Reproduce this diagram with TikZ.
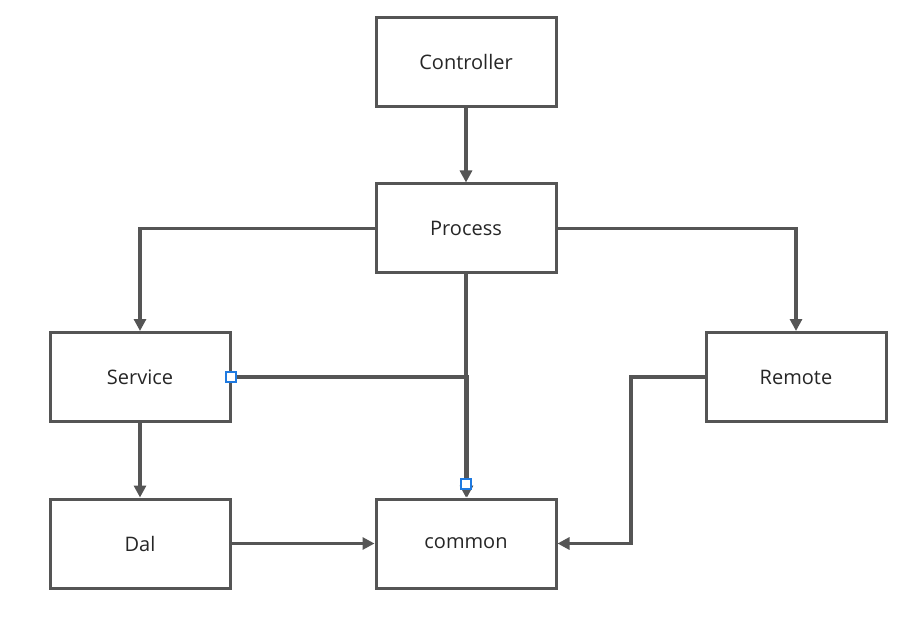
\documentclass[tikz,border=0pt]{standalone}
\usepackage{fontspec}
\setmainfont{Open Sans}
\usetikzlibrary{arrows.meta}
\definecolor{ln}{HTML}{555555}
\definecolor{hb}{HTML}{1F7AE0}
\tikzset{
  box/.style={draw=ln, line width=3pt, fill=white, minimum width=180pt, minimum height=89pt, inner sep=0pt, font=\fontsize{20}{24}\selectfont, text=black!85},
  conn/.style={draw=ln, line width=3.2pt, -{Triangle[length=12pt,width=12pt]}},
  handle/.style={draw=hb, line width=1.6pt, fill=white, minimum size=10pt, inner sep=0pt},
}
\begin{document}
\begin{tikzpicture}[x=1pt,y=-1pt]
\useasboundingbox (0,0) rectangle (909,617);
\node[box] (ctrl) at (466,62.5) {Controller};
\node[box] (proc) at (466,228.5) {Process};
\node[box] (serv) at (140,377) {Service};
\node[box] (rem) at (796,377) {Remote};
\node[box] (dal) at (140,543.5) {Dal};
\node[box] (com) at (466,543.5) {common};
\coordinate (pl) at (140,228.5);
\coordinate (pr) at (796,228.5);
\coordinate (sj) at (467,377);
\coordinate (rj) at (631,377);
\coordinate (rk) at (631,543.5);
\draw[conn] (ctrl.south) -- (proc.north);
\draw[conn] (proc.west) -- (pl) -- (serv.north);
\draw[conn] (proc.east) -- (pr) -- (rem.north);
\draw[conn] (proc.south) -- (com.north);
\draw[conn] (serv.east) -- (sj) -- (sj |- com.north);
\draw[conn] (serv.south) -- (dal.north);
\draw[conn] (dal.east) -- (com.west);
\draw[conn] (rem.west) -- (rj) -- (rk) -- (com.east);
\node[handle] (h1) at (231,377) {};
\node[handle] (h2) at (466,484) {};
\end{tikzpicture}
\end{document}
